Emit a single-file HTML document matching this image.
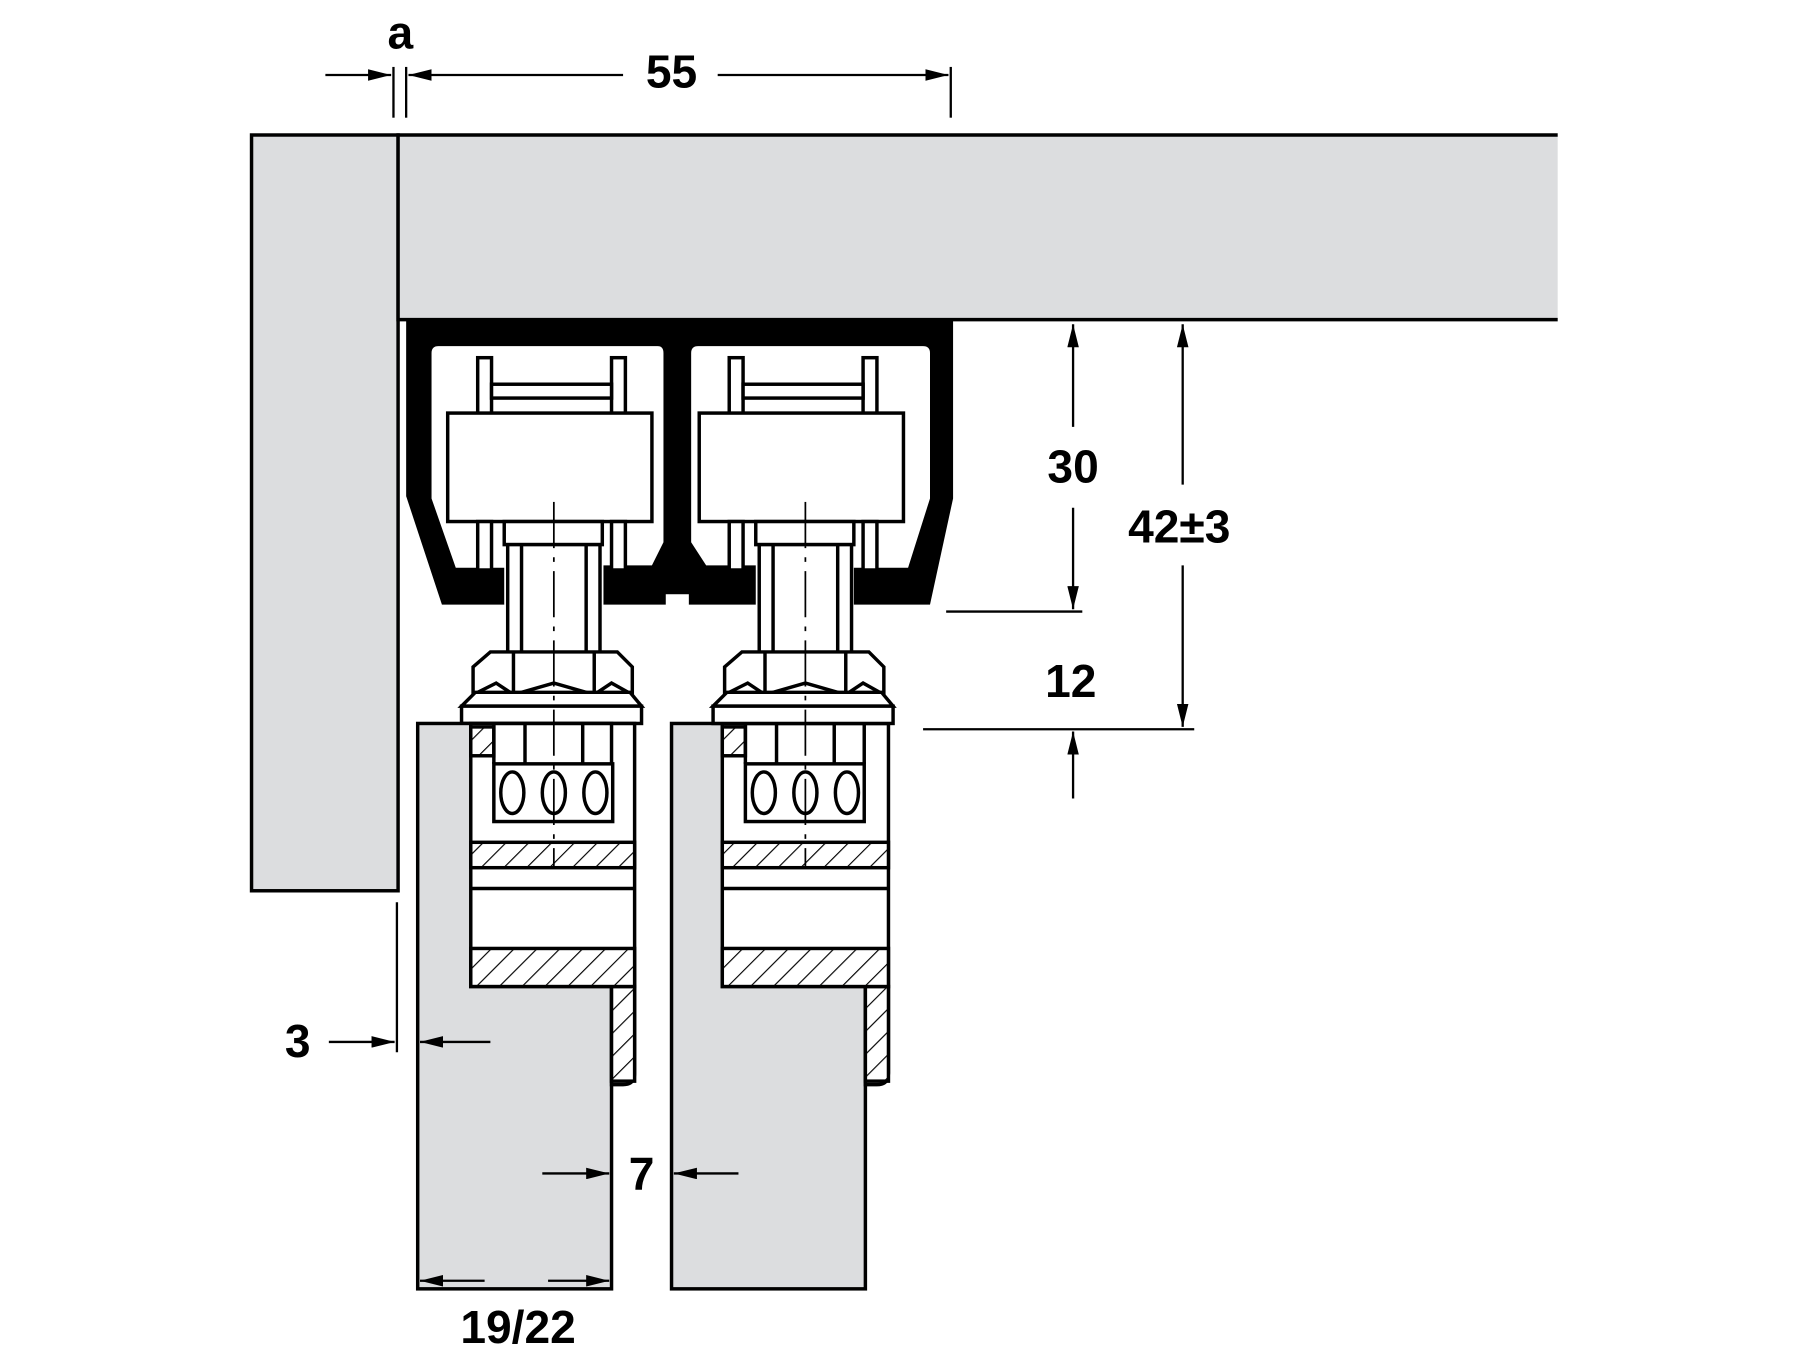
<!DOCTYPE html>
<html><head><style>html,body{margin:0;padding:0;background:#fff}svg{display:block}</style></head>
<body>
<svg width="1800" height="1350" viewBox="0 0 1560 1170" preserveAspectRatio="none" xmlns="http://www.w3.org/2000/svg">
<defs>
<marker id="ar" viewBox="0 0 20 10" refX="20" refY="5" markerWidth="20" markerHeight="10" markerUnits="userSpaceOnUse" orient="auto"><path d="M0 0 L20 5 L0 10 Z" fill="#000"/></marker>
<pattern id="h" patternUnits="userSpaceOnUse" width="14" height="14" patternTransform="rotate(45)"><rect width="14" height="14" fill="#fff"/><line x1="0" y1="0" x2="0" y2="14" stroke="#000" stroke-width="2"/></pattern>
</defs>
<g stroke="#000" stroke-width="3" fill="#dcdddf">
<rect x="218" y="117" width="127" height="655"/>
<path d="M1350 117 H345 V277 H1350" />
</g>
<!-- track -->
<path d="M352 278 V430 L383 524 H806 L826 432 V278 Z" fill="#000"/>
<path d="M378 300 H570 Q575 300 575 306 V470 L565 490 H523 V526 H437 V492 H395 L374 432 V306 Q374 300 380 300 Z" fill="#fff"/>
<path d="M604 300 H800 Q806 300 806 306 V432 L787 492 H740 V526 H655 V490 H612 L599 470 V306 Q599 300 605 300 Z" fill="#fff"/>
<rect x="577" y="515" width="20" height="12" fill="#fff"/>
<g id="car" stroke="#000" stroke-width="3" fill="#fff">
<rect x="414" y="310" width="12" height="50"/><rect x="530" y="310" width="12" height="50"/>
<rect x="426" y="333" width="104" height="12"/>
<rect x="388" y="358" width="177" height="94"/>
<rect x="414" y="452" width="12" height="42"/><rect x="530" y="452" width="12" height="42"/>
<rect x="437" y="452" width="85" height="20"/>
<rect x="440" y="472" width="80" height="96"/>
<line x1="452" y1="472" x2="452" y2="568"/><line x1="508" y1="472" x2="508" y2="568"/>
<path d="M410 578 L425 565 H535 L548 578 V602 L530 592 L515 602 L480 592 L445 602 L430 592 L410 602 Z"/>
<line x1="445" y1="565" x2="445" y2="600"/><line x1="515" y1="565" x2="515" y2="600"/>
<path d="M400 612 L412 600 H546 L556 612 Z"/>
<rect x="400" y="612" width="156" height="15"/>
</g>
<!-- doors -->
<g stroke="#000" stroke-width="3" fill="#dcdddf">
<rect x="362" y="627" width="168" height="490"/>
<rect x="582" y="627" width="168" height="490"/>
</g>
<g stroke="#000" stroke-width="3">
<path d="M408 627 H550 V930 Q550 940 540 940 H530 V855 H408 Z" fill="#fff"/>
<rect x="530" y="855" width="20" height="82" fill="url(#h)"/>
<rect x="408" y="630" width="20" height="25" fill="url(#h)"/>
<rect x="428" y="662" width="103" height="50" fill="#fff"/>
<ellipse cx="444" cy="687" rx="10" ry="18" fill="#fff"/><ellipse cx="480" cy="687" rx="10" ry="18" fill="#fff"/><ellipse cx="516" cy="687" rx="10" ry="18" fill="#fff"/>
<rect x="408" y="730" width="142" height="22" fill="url(#h)"/>
<line x1="408" y1="770" x2="550" y2="770"/>
<rect x="408" y="822" width="142" height="33" fill="url(#h)"/>
<line x1="428" y1="627" x2="428" y2="662"/><line x1="455" y1="627" x2="455" y2="662"/><line x1="505" y1="627" x2="505" y2="662"/><line x1="530" y1="627" x2="530" y2="662"/>
<path d="M626 627 H770 V930 Q770 940 760 940 H750 V855 H626 Z" fill="#fff"/>
<rect x="750" y="855" width="20" height="82" fill="url(#h)"/>
<rect x="626" y="630" width="20" height="25" fill="url(#h)"/>
<rect x="646" y="662" width="103" height="50" fill="#fff"/>
<ellipse cx="662" cy="687" rx="10" ry="18" fill="#fff"/><ellipse cx="698" cy="687" rx="10" ry="18" fill="#fff"/><ellipse cx="734" cy="687" rx="10" ry="18" fill="#fff"/>
<rect x="626" y="730" width="144" height="22" fill="url(#h)"/>
<line x1="626" y1="770" x2="770" y2="770"/>
<rect x="626" y="822" width="144" height="33" fill="url(#h)"/>
<line x1="646" y1="627" x2="646" y2="662"/><line x1="673" y1="627" x2="673" y2="662"/><line x1="723" y1="627" x2="723" y2="662"/><line x1="749" y1="627" x2="749" y2="662"/>
</g>
<use href="#car" transform="translate(218,0)"/>
<g stroke="#000" stroke-width="1.5" stroke-dasharray="40 8 4 8">
<line x1="480" y1="435" x2="480" y2="752"/><line x1="698" y1="435" x2="698" y2="752"/>
</g>
<!-- dimensions -->
<g stroke="#000" stroke-width="2" fill="none">
<line x1="341" y1="58" x2="341" y2="102"/><line x1="352" y1="58" x2="352" y2="102"/><line x1="824" y1="58" x2="824" y2="102"/>
<line x1="282" y1="65" x2="339" y2="65" marker-end="url(#ar)"/>
<line x1="540" y1="65" x2="354" y2="65" marker-end="url(#ar)"/>
<line x1="622" y1="65" x2="822" y2="65" marker-end="url(#ar)"/>
<line x1="930" y1="370" x2="930" y2="281" marker-end="url(#ar)"/>
<line x1="930" y1="440" x2="930" y2="528" marker-end="url(#ar)"/>
<line x1="820" y1="530" x2="938" y2="530"/>
<line x1="1025" y1="420" x2="1025" y2="281" marker-end="url(#ar)"/>
<line x1="1025" y1="490" x2="1025" y2="630" marker-end="url(#ar)"/>
<line x1="800" y1="632" x2="1035" y2="632"/>
<line x1="930" y1="692" x2="930" y2="634" marker-end="url(#ar)"/>
<line x1="344" y1="782" x2="344" y2="912"/>
<line x1="285" y1="903" x2="342" y2="903" marker-end="url(#ar)"/>
<line x1="425" y1="903" x2="364" y2="903" marker-end="url(#ar)"/>
<line x1="470" y1="1017" x2="528" y2="1017" marker-end="url(#ar)"/>
<line x1="640" y1="1017" x2="584" y2="1017" marker-end="url(#ar)"/>
<line x1="420" y1="1110" x2="364" y2="1110" marker-end="url(#ar)"/>
<line x1="475" y1="1110" x2="528" y2="1110" marker-end="url(#ar)"/>
</g>
<g font-family="Liberation Sans, sans-serif" font-weight="bold" font-size="40" text-anchor="middle" fill="#000">
<text x="347" y="42">a</text>
<text x="582" y="76">55</text>
<text x="930" y="418">30</text>
<text x="1022" y="470">42±3</text>
<text x="928" y="604">12</text>
<text x="258" y="916">3</text>
<text x="556" y="1031">7</text>
<text x="449" y="1164">19/22</text>
</g>
</svg>
</body></html>
